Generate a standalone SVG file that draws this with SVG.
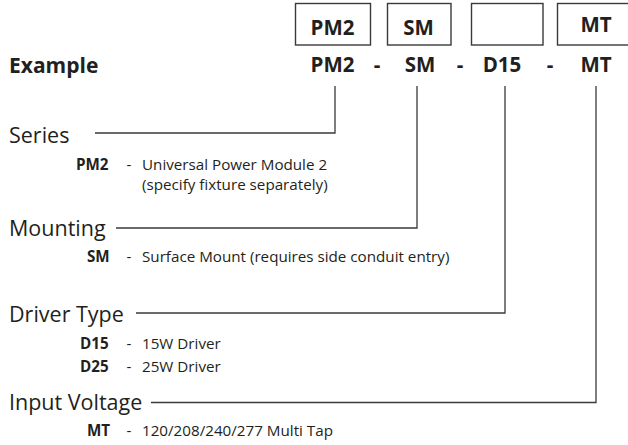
<svg xmlns="http://www.w3.org/2000/svg" width="628" height="445" viewBox="0 0 628 445">
<style>
text{font-family:"Open Sans","Liberation Sans",sans-serif;fill:#231f20}
.b{font-weight:bold}
.code{font-weight:bold;font-size:20.5px;text-anchor:middle}
.head{font-size:21.5px}
.sub{font-size:15.2px}
.dash{font-size:15.2px;text-anchor:middle}
.box{fill:none;stroke:#3a3a3a;stroke-width:1.4}
.ln{fill:none;stroke:#3a3a3a;stroke-width:1.3}
</style>
<rect width="628" height="445" fill="#fff"/>
<g id="boxes">
<g id="box-pm2"><rect class="box" x="295.5" y="3.5" width="75" height="41.5"/><text class="code" x="332.5" y="35">PM2</text></g>
<g id="box-sm"><rect class="box" x="387.5" y="3.5" width="63.5" height="41.5"/><text class="code" x="418.5" y="35">SM</text></g>
<g id="box-d"><rect class="box" x="471.5" y="3.5" width="71.5" height="41.5"/></g>
<g id="box-mt"><rect class="box" x="557.5" y="3.5" width="75" height="41.5"/><text class="code" x="596" y="32">MT</text></g>
</g>
<g id="example">
<text class="b" x="9" y="73" font-size="21">Example</text>
<text class="code" x="332.5" y="72">PM2</text>
<text class="code" x="377" y="72">-</text>
<text class="code" x="420" y="72">SM</text>
<text class="code" x="460" y="72">-</text>
<text class="code" x="502" y="72">D15</text>
<text class="code" x="550" y="72">-</text>
<text class="code" x="596" y="72">MT</text>
</g>
<g id="connectors">
<polyline class="ln" points="95,133 335,133 335,86"/>
<polyline class="ln" points="116,228 417,228 417,86"/>
<polyline class="ln" points="136,313 505,313 505,86"/>
<polyline class="ln" points="151,402.5 596,402.5 596,86"/>
</g>
<g id="series">
<text class="head" x="9" y="143">Series</text>
<text class="sub b" x="76" y="169.5">PM2</text>
<text class="dash" x="129" y="169.5">-</text>
<text class="sub" x="142" y="169.5" font-size="15">Universal Power Module 2</text>
<text class="sub" x="142" y="190" font-size="15">(specify fixture separately)</text>
</g>
<g id="mounting">
<text class="head" x="9" y="236">Mounting</text>
<text class="sub b" x="87" y="262">SM</text>
<text class="dash" x="129" y="262">-</text>
<text class="sub" x="142" y="262">Surface Mount (requires side conduit entry)</text>
</g>
<g id="driver">
<text class="head" x="9" y="322">Driver Type</text>
<text class="sub b" x="80" y="349">D15</text>
<text class="dash" x="129" y="349">-</text>
<text class="sub" x="142" y="349">15W Driver</text>
<text class="sub b" x="80" y="372">D25</text>
<text class="dash" x="129" y="372">-</text>
<text class="sub" x="142" y="372">25W Driver</text>
</g>
<g id="voltage">
<text class="head" x="9" y="410">Input Voltage</text>
<text class="sub b" x="87" y="436">MT</text>
<text class="dash" x="129" y="436">-</text>
<text class="sub" x="142" y="436">120/208/240/277 Multi Tap</text>
</g>
</svg>
